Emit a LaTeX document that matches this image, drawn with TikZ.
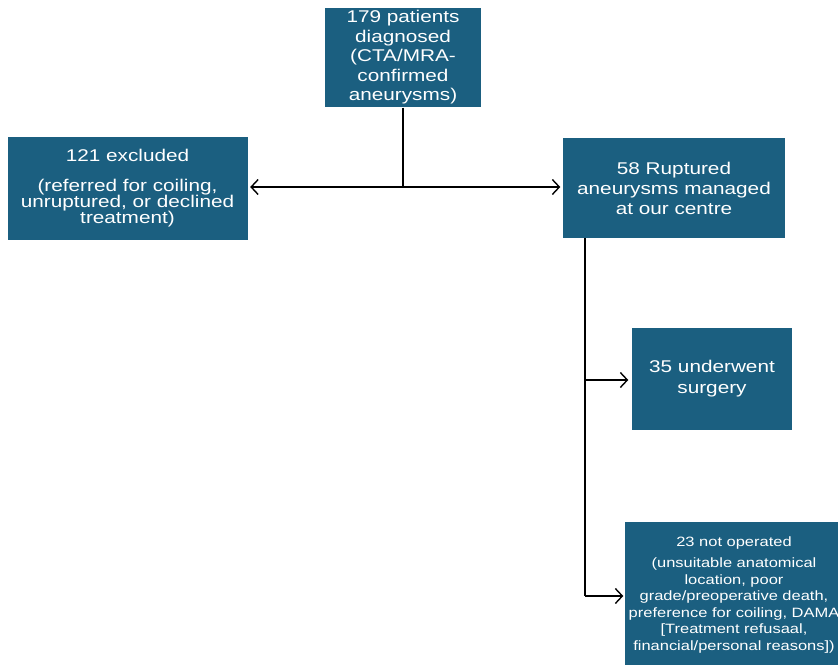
\documentclass[tikz,border=0pt]{standalone}
\usepackage{fontspec}
\setmainfont[FakeStretch=1.22]{Liberation Sans}
\usepackage{tikz}
\usepackage{xcolor}
\usetikzlibrary{arrows.meta}
\definecolor{boxblue}{RGB}{27,95,128}

\begin{document}
\begin{tikzpicture}[x=1pt, y=-1pt, box/.style={fill=boxblue, text=white, align=center, inner sep=0pt}, >={Straight Barb[length=7pt,width=15pt]}, line width=1.4pt]
            \clip (0,0) rectangle (838,664);

            \node (T) at (403,57.5) [box, minimum width=156pt, minimum height=99pt, font=\fontsize{17}{19.5}\selectfont] {179 patients\\diagnosed\\(CTA/MRA-\\confirmed\\aneurysms)};
            \node (E) at (127.5,188.5) [box, minimum width=240pt, minimum height=103pt, font=\fontsize{17}{16}\selectfont] {121 excluded\\[14pt](referred for coiling,\\unruptured, or declined\\treatment)};
            \node (R) at (674,188) [box, minimum width=222pt, minimum height=100pt, font=\fontsize{17}{20}\selectfont] {58 Ruptured\\aneurysms managed\\at our centre};
            \node (S) at (712,379) [box, minimum width=160pt, minimum height=102pt, font=\fontsize{17}{21}\selectfont] {35 underwent\\surgery};
            \node (N) at (734,595) [box, minimum width=218pt, minimum height=146pt, font=\fontsize{13.5}{16.5}\selectfont] {23 not operated\\[5pt](unsuitable anatomical\\location, poor\\grade/preoperative death,\\preference for coiling, DAMA\\{[}Treatment refusaal,\\financial/personal reasons{]})};

            \coordinate (j) at (403,187);
            \coordinate (r) at (585,238);
            \coordinate (s) at (585,380);
            \coordinate (n) at (585,596);

            \draw (T) -- (j);
            \draw[->, shorten >=2pt] (j) -- (E.east |- j);
            \draw[->, shorten >=2pt] (j) -- (R.west |- j);

            \draw (r) -- (n);
            \draw[->, shorten >=3pt] (s) -- (S.west |- s);
            \draw[->, shorten >=1pt] (n) -- (N.west |- n);
        \end{tikzpicture}
\end{document}
